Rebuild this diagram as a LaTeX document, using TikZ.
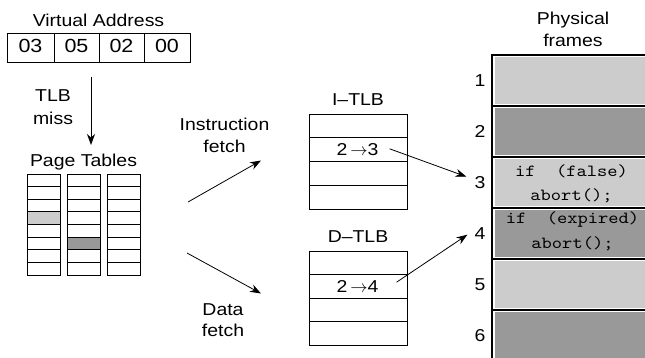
\documentclass[tikz,border=0pt]{standalone}
\usepackage{fontspec}
\setmainfont{Liberation Sans}[FakeStretch=1.13]
\newfontfamily\codefont{lmmono10-regular.otf}[FakeStretch=1.15]
\usetikzlibrary{arrows.meta}
\definecolor{shadelight}{HTML}{CCCCCC}
\definecolor{shadedark}{HTML}{999999}
\tikzset{
  txt/.style={font=\fontsize{17.2pt}{20pt}\selectfont, inner sep=0pt},
  lbl/.style={txt, anchor=base},
  code/.style={font=\codefont\fontsize{17pt}{20pt}\selectfont, inner sep=0pt, anchor=base},
  vacell/.style={draw, line width=0.9pt, minimum height=29pt, inner sep=0pt},
  vadigits/.style={font=\fontsize{19pt}{22pt}\selectfont, inner sep=0pt},
  arr/.style={-{Stealth[length=11pt,width=8pt]}, line width=0.8pt},
  boxline/.style={line width=0.9pt},
  frameline/.style={line width=1.1pt},
}
\begin{document}
\begin{tikzpicture}[x=1pt,y=-1pt]
\useasboundingbox (0,0) rectangle (645,358);

% virtual address
\node[lbl] (vatitle) at (98.5,26.7) {Virtual Address};
\node[vacell, minimum width=47pt] (va1) at (30.5,47.5) {};
\node[vacell, minimum width=45pt] (va2) at (76.5,47.5) {};
\node[vacell, minimum width=45pt] (va3) at (121.5,47.5) {};
\node[vacell, minimum width=46pt] (va4) at (167,47.5) {};
\node[vadigits] (d1) at ([yshift=1.5pt]va1.center) {03};
\node[vadigits] (d2) at ([yshift=1.5pt]va2.center) {05};
\node[vadigits] (d3) at ([yshift=1.5pt]va3.center) {02};
\node[vadigits] (d4) at ([yshift=1.5pt]va4.center) {00};

% TLB miss
\node[lbl] (miss1) at (53,101.7) {TLB};
\node[lbl] (miss2) at (53,125) {miss};
\coordinate (missstart) at (91,77);
\coordinate (missend) at (91,145);
\draw[arr] (missstart) -- (missend);

% page tables
\node[lbl] (pttitle) at (83.5,166.7) {Page Tables};
\fill[shadelight] (27,174+3*12.625) rectangle ++(33,12.625);
\fill[shadedark] (67,174+5*12.625) rectangle ++(33,12.625);
\foreach \c in {27,67,107} {
  \foreach \r in {0,...,7} {
    \draw[boxline] (\c,174+\r*12.625) rectangle ++(33,12.625);
  }
}

% fetch arrows
\node[lbl] (if1) at (224.5,130.7) {Instruction};
\node[lbl] (if2) at (224.5,152.7) {fetch};
\coordinate (ifa) at (188,202);
\coordinate (ifb) at (261,160.5);
\draw[arr] (ifa) -- (ifb);
\node[lbl] (df1) at (223,315) {Data};
\node[lbl] (df2) at (223,336.7) {fetch};
\coordinate (dfa) at (187,253);
\coordinate (dfb) at (261,293.5);
\draw[arr] (dfa) -- (dfb);

% I-TLB
\node[lbl] (itlbt) at (358,106) {I--TLB};
\foreach \r in {0,...,3} {
  \draw[boxline] (309,114+\r*23.75) rectangle ++(98,23.75);
}
\node[txt] (ient) at (357.5,149.8) {2\,$\rightarrow$3};

% D-TLB
\node[lbl] (dtlbt) at (358,242.7) {D--TLB};
\foreach \r in {0,...,3} {
  \draw[boxline] (309,251+\r*23.5) rectangle ++(98,23.5);
}
\node[txt] (dent) at (357.5,286.2) {2\,$\rightarrow$4};

% physical frames
\node[lbl] (pf1) at (573,25) {Physical};
\node[lbl] (pf2) at (573,46.7) {frames};
\foreach \i/\col in {0/shadelight,1/shadedark,2/shadelight,3/shadedark,4/shadelight,5/shadedark} {
  \fill[\col] (494.6,55+\i*51+2.4) rectangle (646,55+\i*51+51-2.4);
  \node[txt] (n\the\numexpr\i+1\relax) at (480,55+\i*51+25.7) {\the\numexpr\i+1\relax};
}
\draw[frameline] (492,360) -- (492,55) -- (646,55);
\foreach \i in {1,...,5} {
  \draw[frameline] (492,55+\i*51) -- (646,55+\i*51);
}

% frame contents
\node[code] (c3a) at (571.5,176.7) {if\ \ (false)};
\node[code] (c3b) at (571.5,200.7) {abort();};
\node[code] (c4a) at (572.5,223.3) {if\ \ (expired)};
\node[code] (c4b) at (572.5,248.3) {abort();};

% translations to frames
\draw[arr] ([xshift=11pt,yshift=1pt]ient.east) -- ([xshift=-8pt,yshift=6pt]n3.west);
\draw[arr] ([xshift=18pt,yshift=4pt]dent.east) -- ([xshift=-7pt,yshift=-1pt]n4.west);
\end{tikzpicture}
\end{document}
